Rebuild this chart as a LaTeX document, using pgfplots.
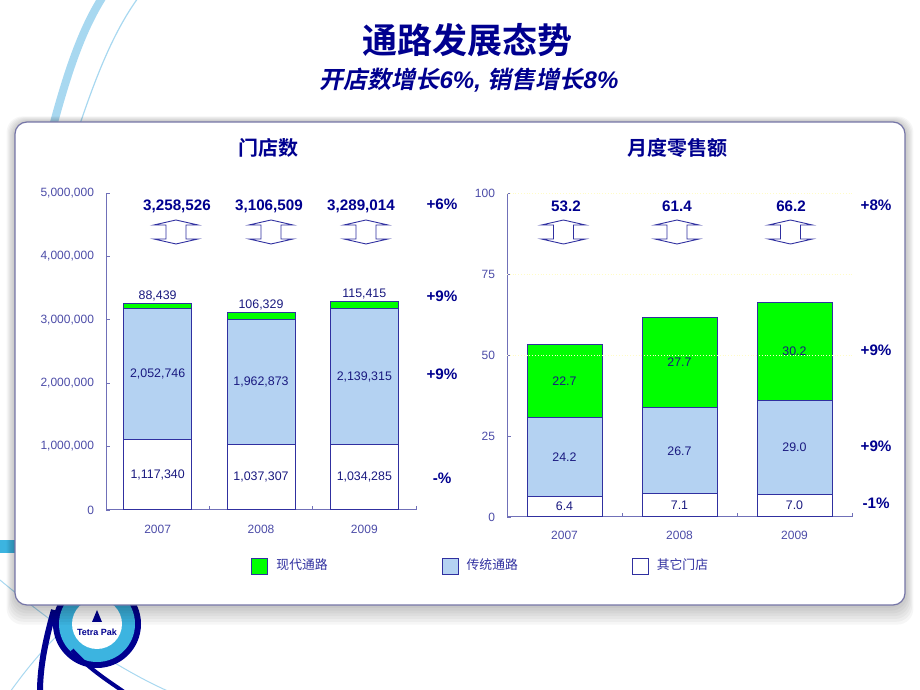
\documentclass[border=0pt]{standalone}
\usepackage{fontspec}
\setmainfont{Liberation Sans}
\newfontfamily\cjk{Noto Sans CJK SC}[BoldFont={Noto Sans CJK SC Bold}]
\newfontfamily\cjkbi{Noto Sans CJK SC Bold}[FakeSlant=0.2]
\usepackage{pgfplots}
\pgfplotsset{compat=1.18}
\definecolor{navy}{HTML}{00008F}
\definecolor{ticklab}{HTML}{4C4CA8}
\definecolor{axline}{HTML}{7070B8}
\definecolor{barline}{HTML}{3030A0}
\definecolor{ltblue}{HTML}{B4D2F2}
\definecolor{mgreen}{HTML}{00FF00}
\definecolor{segtxt}{HTML}{1A1A80}
\definecolor{legtxt}{HTML}{3030A0}
\definecolor{skyband}{HTML}{A8D8F0}
\definecolor{cyanlogo}{HTML}{3CB4E0}
\pgfplotsset{
  common/.style={
    scale only axis, anchor=south west, ybar stacked,
    xmin=-0.5, xmax=2.5, ymin=0,
    axis lines*=left, axis line style={-, draw=axline, line width=0.5pt},
    xtick={0,1,2}, xticklabels={2007,2008,2009},
    major x tick style={draw=none},
    minor xtick={0.5,1.5,2.5}, minor tick length=2pt,
    minor x tick style={draw=axline},
    y tick style={draw=axline}, major tick length=2pt,
    tick align=inside,
    tick label style={font=\fontsize{6}{7}\selectfont, text=ticklab},
    yticklabel style={xshift=-2.5pt},
    clip=false,
    /pgf/number format/fixed,
    /pgf/number format/1000 sep={,},
    /pgf/number format/assume math mode=true,
    scaled y ticks=false,
  },
  overlay/.style={
    scale only axis, anchor=south west, hide axis, clip=false,
    xmin=-0.5, xmax=2.5, ymin=0,
  },
  leftpos/.style={at={(53pt,90pt)}, width=155pt, height=158.65pt, ymax=5000000},
  rightpos/.style={at={(253.5pt,86.5pt)}, width=172.5pt, height=162pt, ymax=100},
}
\tikzset{
  seg/.style={font=\fontsize{6.2}{7}\selectfont, text=segtxt},
  tot/.style={font=\bfseries\fontsize{7.6}{9}\selectfont, text=navy},
  udarrow/.style={draw=barline, line width=0.45pt, fill=white},
}
\newcommand{\udarrow}[1]{\draw[udarrow, shift={#1}] (canvas cs:x=0pt,y=6pt) -- (canvas cs:x=11pt,y=3.5pt) -- (canvas cs:x=5pt,y=3.5pt) -- (canvas cs:x=5pt,y=-3.5pt) -- (canvas cs:x=11pt,y=-3.5pt) -- (canvas cs:x=0pt,y=-6pt) -- (canvas cs:x=-11pt,y=-3.5pt) -- (canvas cs:x=-5pt,y=-3.5pt) -- (canvas cs:x=-5pt,y=3.5pt) -- (canvas cs:x=-11pt,y=3.5pt) -- cycle;}
\begin{document}
\begin{tikzpicture}[x=0.5pt,y=0.5pt]
\path[use as bounding box] (0,0) rectangle (920,690);
% background decorations
\draw[skyband, line width=4pt] (52,560) .. controls (68,620) and (82,660) .. (102,692);
\draw[skyband, line width=0.6pt] (78,560) .. controls (98,620) and (115,660) .. (138,692);
\fill[cyanlogo] (0,137) rectangle (18,150);
\draw[skyband, line width=0.5pt] (0,110) .. controls (60,60) and (120,20) .. (170,-2);
\draw[skyband, line width=0.5pt] (10,-2) .. controls (40,40) and (70,70) .. (100,90);
\fill[navy] (97,66) circle (44);
\fill[cyanlogo] (97,66) circle (38);
\fill[white] (97,66) circle (25);
\node[text=navy, font=\bfseries\fontsize{4.5}{5}\selectfont] at (97,58) {Tetra Pak};
\fill[navy] (92,68) -- (97,80) -- (102,68) -- cycle;
\draw[navy, line width=3pt] (54,80) .. controls (44,45) and (40,20) .. (40,-2);
\draw[navy, line width=2pt] (72,40) .. controls (90,20) and (110,8) .. (124,-2);
% box shadow
\foreach \s in {0,2,...,14}
  \fill[black, opacity=0.035, rounded corners=8pt] (15-\s*0.6,85-\s*1.4) rectangle (905+\s*0.6,568+\s*0.4);
\filldraw[fill=white, draw=axline!70!gray, line width=0.6pt, rounded corners=6pt] (15,85) rectangle (905,568);
% titles
\node[text=navy, font=\cjk\bfseries\fontsize{17.5}{20}\selectfont] at (467,650) {通路发展态势};
\node[text=navy, font=\fontsize{12}{14}\selectfont] at (469,610) {{\cjkbi 开店数增长}{\bfseries\itshape 6\%, }{\cjkbi 销售增长}{\bfseries\itshape 8\%}};
\node[text=navy, font=\cjk\bfseries\fontsize{10}{12}\selectfont] at (268,542) {门店数};
\node[text=navy, font=\cjk\bfseries\fontsize{10}{12}\selectfont] at (677,542) {月度零售额};

% ---------- left chart
\begin{axis}[common, leftpos,
  ytick={0,1000000,2000000,3000000,4000000,5000000},
  yticklabels={0,{1,000,000},{2,000,000},{3,000,000},{4,000,000},{5,000,000}},
  xticklabel style={yshift=-4pt},
  bar width=34pt,
  legend image code/.code={\draw[#1, line width=0.5pt] (0pt,-4pt) rectangle (8pt,4pt); \path (10pt,0);},
  reverse legend,
  legend columns=3,
  legend style={at={(0.468,-0.1765)}, anchor=west, draw=none, fill=none, inner sep=0pt,
    font=\cjk\fontsize{6.4}{8}\selectfont, text=legtxt,
    /tikz/every even column/.append style={column sep=55pt}},
]
\addplot[fill=white, draw=barline, line width=0.5pt] coordinates {(0,1117340) (1,1037307) (2,1034285)};
\addplot[fill=ltblue, draw=barline, line width=0.5pt] coordinates {(0,2052746) (1,1962873) (2,2139315)};
\addplot[fill=mgreen, draw=barline, line width=0.5pt] coordinates {(0,88439) (1,106329) (2,115415)};
\addlegendentry{其它门店}
\addlegendentry{传统通路}
\addlegendentry{现代通路}
\end{axis}
\begin{axis}[overlay, leftpos]
\node[seg] at (axis cs:0,558670) {1,117,340};
\node[seg] at (axis cs:1,518654) {1,037,307};
\node[seg] at (axis cs:2,517143) {1,034,285};
\node[seg] at (axis cs:0,2143713) {2,052,746};
\node[seg] at (axis cs:1,2018744) {1,962,873};
\node[seg] at (axis cs:2,2103943) {2,139,315};
\node[seg, anchor=south, inner sep=1pt] at (axis cs:0,3258525) {88,439};
\node[seg, anchor=south, inner sep=1pt] at (axis cs:1,3106509) {106,329};
\node[seg, anchor=south, inner sep=1pt] at (axis cs:2,3289015) {115,415};
\node[tot] at (axis cs:0.187,4790000) {3,258,526};
\node[tot] at (axis cs:1.077,4790000) {3,106,509};
\node[tot] at (axis cs:1.968,4790000) {3,289,014};
\udarrow{(axis cs:0.177,4381000)}
\udarrow{(axis cs:1.097,4381000)}
\udarrow{(axis cs:2.016,4381000)}
\node[tot] at (axis cs:2.752,4822000) {+6\%};
\node[tot] at (axis cs:2.752,3372000) {+9\%};
\node[tot] at (axis cs:2.752,2143000) {+9\%};
\node[tot] at (axis cs:2.752,504000) {-\%};
\end{axis}

% ---------- right chart
\begin{axis}[common, rightpos,
  ytick={0,25,50,75,100},
  xticklabel style={yshift=-3.5pt},
  bar width=37.5pt,
]
\draw[densely dotted, color=yellow!22!white, line width=0.4pt] (axis cs:-0.5,100) -- (axis cs:2.5,100);
\draw[densely dotted, color=yellow!22!white, line width=0.4pt] (axis cs:-0.5,75) -- (axis cs:2.5,75);
\draw[densely dotted, color=yellow!22!white, line width=0.4pt] (axis cs:-0.5,50) -- (axis cs:2.5,50);
\addplot[fill=white, draw=barline, line width=0.5pt] coordinates {(0,6.4) (1,7.1) (2,7.0)};
\addplot[fill=ltblue, draw=barline, line width=0.5pt] coordinates {(0,24.2) (1,26.7) (2,29.0)};
\addplot[fill=mgreen, draw=barline, line width=0.5pt] coordinates {(0,22.7) (1,27.7) (2,30.2)};
\end{axis}
\begin{axis}[overlay, rightpos]
\node[seg] at (axis cs:0,3.2) {6.4};
\node[seg] at (axis cs:1,3.55) {7.1};
\node[seg] at (axis cs:2,3.5) {7.0};
\node[seg] at (axis cs:0,18.5) {24.2};
\node[seg] at (axis cs:1,20.45) {26.7};
\node[seg] at (axis cs:2,21.5) {29.0};
\node[seg] at (axis cs:0,41.95) {22.7};
\node[seg] at (axis cs:1,47.65) {27.7};
\node[seg] at (axis cs:2,51.1) {30.2};
\node[tot] at (axis cs:0.013,96) {53.2};
\node[tot] at (axis cs:0.978,96) {61.4};
\node[tot] at (axis cs:1.970,96) {66.2};
\udarrow{(axis cs:-0.009,87.96)}
\udarrow{(axis cs:0.978,87.96)}
\udarrow{(axis cs:1.965,87.96)}
\node[tot] at (axis cs:2.709,96.3) {+8\%};
\node[tot] at (axis cs:2.709,51.5) {+9\%};
\node[tot] at (axis cs:2.709,21.9) {+9\%};
\node[tot] at (axis cs:2.709,4.3) {-1\%};
\end{axis}
\end{tikzpicture}
\end{document}
